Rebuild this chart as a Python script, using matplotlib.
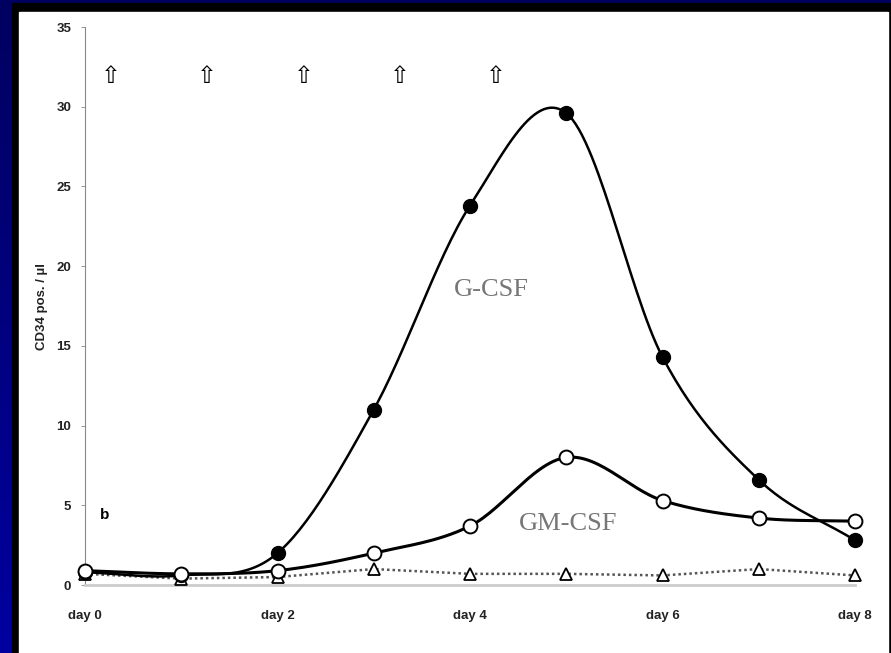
import numpy as np
import matplotlib.pyplot as plt
from matplotlib.patches import Rectangle

# Data
days = np.arange(0, 9)
gcsf = [0.8, 0.6, 2.0, 11.0, 23.8, 29.6, 14.3, 6.6, 2.8]
gmcsf = [0.9, 0.7, 0.9, 2.0, 3.7, 8.0, 5.3, 4.2, 4.0]
control = [0.7, 0.4, 0.5, 1.0, 0.7, 0.7, 0.6, 1.0, 0.6]
arrow_days = [0.27, 1.27, 2.27, 3.27, 4.27]
xtick_labels = ['day 0', 'day 2', 'day 4', 'day 6', 'day 8']


def smooth(x, y, n=30):
    # Catmull-Rom curve through the points, only for drawing
    x = np.asarray(x, float)
    y = np.asarray(y, float)
    px = np.concatenate([[2 * x[0] - x[1]], x, [2 * x[-1] - x[-2]]])
    py = np.concatenate([[2 * y[0] - y[1]], y, [2 * y[-1] - y[-2]]])
    xs, ys = [], []
    t = np.linspace(0, 1, n, endpoint=False)
    for i in range(1, len(px) - 2):
        for p, out in ((px, xs), (py, ys)):
            p0, p1, p2, p3 = p[i - 1], p[i], p[i + 1], p[i + 2]
            out.extend(0.5 * (2 * p1 + (-p0 + p2) * t
                              + (2 * p0 - 5 * p1 + 4 * p2 - p3) * t ** 2
                              + (-p0 + 3 * p1 - 3 * p2 + p3) * t ** 3))
    xs.append(x[-1])
    ys.append(y[-1])
    return np.array(xs), np.array(ys)


fig = plt.figure(figsize=(8.91, 6.53), dpi=100)

# navy backdrop with black frame and white panel
bg = fig.add_axes([0, 0, 1, 1], zorder=-10)
grad = np.linspace(0, 1, 256).reshape(-1, 1)
bg.imshow(grad, aspect='auto', extent=[0, 1, 0, 1],
          cmap=plt.matplotlib.colors.LinearSegmentedColormap.from_list(
              'navy', ['#000060', '#0000a0']), origin='upper')
bg.add_patch(Rectangle((12 / 891, 0), 1, 1 - 3 / 653, color='black'))
bg.add_patch(Rectangle((19 / 891, 0), (888 - 19) / 891, 1 - 12 / 653,
                       color='white'))
bg.set_xlim(0, 1)
bg.set_ylim(0, 1)
bg.axis('off')

ax = fig.add_axes([85 / 891, 1 - 585 / 653, 770 / 891, 558 / 653])
ax.patch.set_alpha(0)

# control (dotted, triangles)
ax.plot(days, control, color='#555555', lw=1.8, ls=(0, (1, 1.2)), zorder=2,
        clip_on=False)
ax.plot(days, control, ls='none', marker='^', ms=8.5, mfc='white',
        mec='black', mew=1.3, zorder=3, clip_on=False)

# G-CSF (filled circles)
sx, sy = smooth(days, gcsf)
ax.plot(sx, sy, color='black', lw=1.8, zorder=4, clip_on=False)
ax.plot(days, gcsf, ls='none', marker='o', ms=10, mfc='black',
        mec='black', zorder=5, clip_on=False)

# GM-CSF (open circles)
sx, sy = smooth(days, gmcsf)
ax.plot(sx, sy, color='black', lw=2.2, zorder=6, clip_on=False)
ax.plot(days, gmcsf, ls='none', marker='o', ms=10, mfc='white',
        mec='black', mew=1.4, zorder=7, clip_on=False)

# injection arrows
for d in arrow_days:
    ax.text(d, 31.9, '\u21e7', fontsize=17, ha='center', va='center',
            family='DejaVu Sans')

ax.text(4.22, 18.5, 'G-CSF', fontsize=19, color='#777777',
        family='Liberation Serif', ha='center', va='center')
ax.text(5.02, 3.8, 'GM-CSF', fontsize=19, color='#777777',
        family='Liberation Serif', ha='center', va='center')
ax.text(0.2, 4.4, 'b', fontsize=11, fontweight='bold', family='Liberation Sans',
        ha='center', va='center')

ax.set_xlim(0, 8)
ax.set_ylim(0, 35)
ax.set_yticks(np.arange(0, 36, 5))
ax.set_xticks([0, 2, 4, 6, 8])
ax.set_xticklabels(xtick_labels)
for lab in ax.get_xticklabels() + ax.get_yticklabels():
    lab.set_fontweight('bold')
    lab.set_family('Liberation Sans')
    lab.set_fontsize(9.5)
    lab.set_color('#222222')
ax.tick_params(axis='y', direction='out', length=3, width=0.6,
               color='#888888', pad=7)
ax.tick_params(axis='x', length=0, pad=18)

ax.set_ylabel('CD34 pos. / \u00b5l', fontsize=9.5, fontweight='bold',
              family='Liberation Sans', color='#222222', labelpad=6)

for s in ['top', 'right']:
    ax.spines[s].set_visible(False)
ax.spines['left'].set_color('#888888')
ax.spines['left'].set_linewidth(0.8)
ax.spines['bottom'].set_color('#cccccc')
ax.spines['bottom'].set_linewidth(2)

fig.savefig('out.png', dpi=100)
